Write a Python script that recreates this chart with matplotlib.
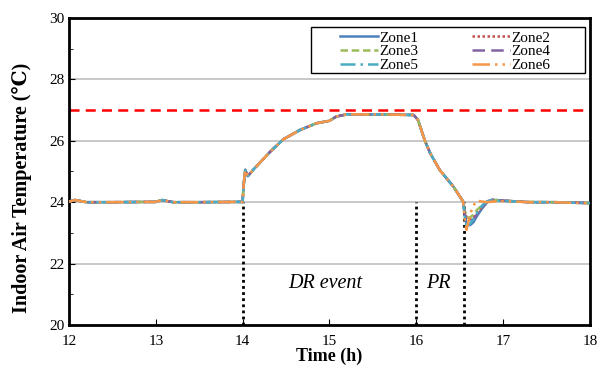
import numpy as np
import matplotlib.pyplot as plt
from matplotlib.ticker import MultipleLocator
from matplotlib.patches import Rectangle

plt.rcParams['font.family'] = ['Liberation Serif', 'DejaVu Serif', 'DejaVu Sans']

# Shared part of the profile (all zones almost identical until the PR ends)
time_common = [12.0, 12.07, 12.2, 12.5, 13.0, 13.07, 13.2, 13.5, 14.0, 14.01, 14.03,
               14.06, 14.12, 14.32, 14.47, 14.66, 14.85, 15.0, 15.08, 15.2, 15.5,
               15.97, 16.02, 16.1, 16.16, 16.27, 16.43, 16.54]
temp_common = [24.02, 24.07, 24.0, 24.0, 24.01, 24.07, 24.0, 24.0, 24.01, 24.5, 25.05,
               24.85, 25.05, 25.65, 26.05, 26.35, 26.57, 26.65, 26.79, 26.86, 26.86,
               26.84, 26.68, 26.0, 25.6, 25.05, 24.5, 24.02]

# Recovery after the PR, per zone
time_recover = [16.56, 16.58, 16.62, 16.66, 16.7, 16.76, 16.82, 16.88, 17.0, 17.3, 17.6, 18.0]
recover = {
    'Zone1': [23.6, 23.3, 23.25, 23.35, 23.55, 23.8, 24.0, 24.08, 24.05, 24.0, 24.0, 23.97],
    'Zone2': [23.7, 23.5, 23.45, 23.5, 23.65, 23.85, 24.02, 24.08, 24.05, 24.0, 24.0, 23.97],
    'Zone3': [23.7, 23.5, 23.5, 23.6, 23.75, 23.9, 24.02, 24.07, 24.05, 24.01, 24.0, 23.97],
    'Zone4': [23.6, 23.4, 23.35, 23.45, 23.6, 23.85, 24.03, 24.08, 24.05, 24.0, 24.0, 23.97],
    'Zone5': [23.5, 23.2, 23.3, 23.45, 23.65, 23.9, 24.03, 24.07, 24.04, 24.0, 24.0, 23.97],
    'Zone6': [23.4, 23.1, 23.6, 23.9, 24.05, 24.02, 24.0, 24.02, 24.03, 24.0, 24.0, 23.96],
}

zone_styles = {
    'Zone1': ('#4F81BD', '-'),
    'Zone2': ('#C0504D', (0, (1, 1))),
    'Zone3': ('#9BBB59', (0, (3, 1.5))),
    'Zone4': ('#8064A2', (0, (5, 2.5))),
    'Zone5': ('#4BACC6', (0, (6, 2, 1, 2))),
    'Zone6': ('#F79646', (0, (7, 2, 1, 2, 1, 2))),
}

threshold = 27.0
event_lines = [14.0, 16.0, 16.55]

fig = plt.figure(figsize=(5.97, 3.74), dpi=100)
ax = fig.add_axes([0.1156, 0.131, 0.8724, 0.821])

ax.set_xlim(12, 18)
ax.set_ylim(20, 30)
ax.yaxis.set_major_locator(MultipleLocator(2))
ax.yaxis.set_minor_locator(MultipleLocator(1))
ax.xaxis.set_major_locator(MultipleLocator(1))

for y in [22, 24, 26, 28]:
    ax.axhline(y, color='#BFBFBF', lw=1.2, zorder=0)

handles = {}
for name, (color, ls) in zone_styles.items():
    t = time_common + time_recover
    v = temp_common + recover[name]
    handles[name], = ax.plot(t, v, color=color, ls=ls, lw=1.8, label=name, zorder=3)

ax.axhline(threshold, color='#FF0000', ls=(0, (4, 2.5)), lw=1.8, zorder=2)
ax.vlines(event_lines, 20, 24, colors='black', linestyles=(0, (1, 1.2)), lw=2, zorder=2)

ax.text(14.95, 21.35, 'DR event', fontsize=14.5, style='italic', ha='center', va='center')
ax.text(16.26, 21.35, 'PR', fontsize=14.5, style='italic', ha='center', va='center')

ax.tick_params(which='both', direction='in', labelsize=11)
ax.tick_params(which='major', length=4)
ax.tick_params(which='minor', length=3)
ax.tick_params(axis='x', pad=7)
for s in ax.spines.values():
    s.set_linewidth(2)

ax.set_xlabel('Time (h)', fontsize=13, fontweight='bold', labelpad=0)
ax.set_ylabel('Indoor Air Temperature (\u2103)', fontsize=14.5, fontweight='bold')
ax.yaxis.set_label_coords(-0.072, 0.445)

# legend frame drawn separately, wider than the entries
ax.add_patch(Rectangle((0.4645, 0.822), 0.526, 0.149, transform=ax.transAxes,
                       facecolor='white', edgecolor='black', lw=1, zorder=4))

# row-major legend order like the original
order = ['Zone1', 'Zone3', 'Zone5', 'Zone2', 'Zone4', 'Zone6']
leg = ax.legend([handles[k] for k in order], order, ncol=2, loc='upper left',
                fontsize=11, frameon=False, handlelength=2.5, handletextpad=0.1,
                columnspacing=3.5, labelspacing=0.0, borderpad=0, borderaxespad=0,
                bbox_to_anchor=(0.52, 0.958))
leg.set_zorder(5)

fig.savefig('out.png', dpi=100)
